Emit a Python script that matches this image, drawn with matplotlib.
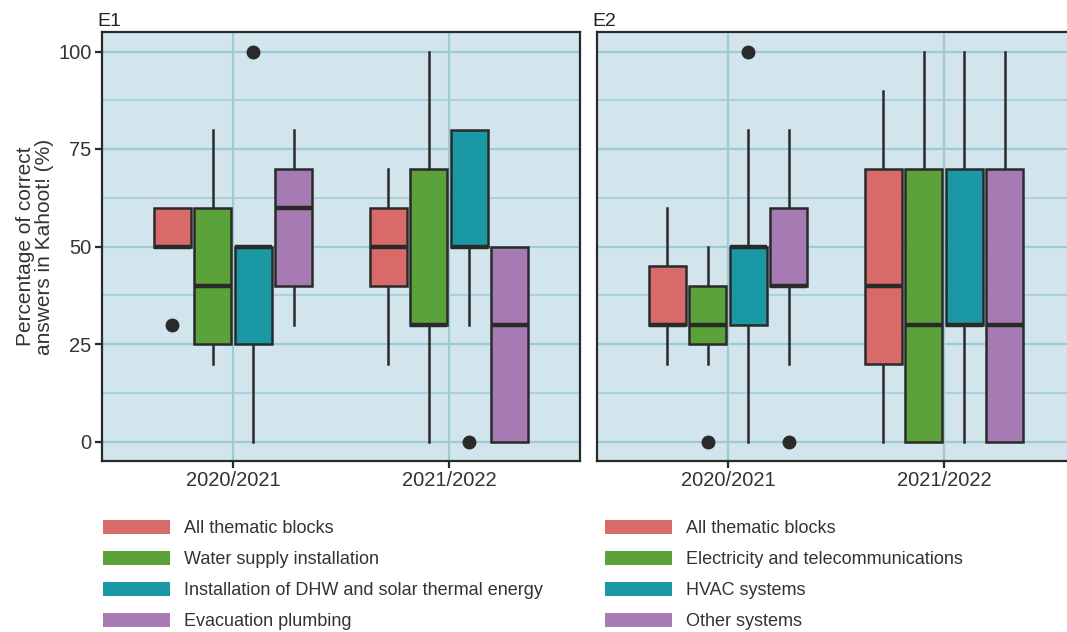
import matplotlib
matplotlib.use("Agg")
import matplotlib.pyplot as plt
from matplotlib.patches import Patch

plt.rcParams['font.family'] = ['Liberation Sans', 'DejaVu Sans']

years = ["2020/2021", "2021/2022"]
colors = ["#d86b6a", "#5ba23a", "#1a98a3", "#a67bb3"]

e1_labels = ["All thematic blocks", "Water supply installation",
             "Installation of DHW and solar thermal energy", "Evacuation plumbing"]
e2_labels = ["All thematic blocks", "Electricity and telecommunications",
             "HVAC systems", "Other systems"]

# per year, per block: whisker low, Q1, median, Q3, whisker high
e1_whislo = [[50, 20, 0, 30], [20, 0, 30, 0]]
e1_q1 = [[50, 25, 25, 40], [40, 30, 50, 0]]
e1_med = [[50, 40, 50, 60], [50, 30, 50, 30]]
e1_q3 = [[60, 60, 50, 70], [60, 70, 80, 50]]
e1_whishi = [[60, 80, 50, 80], [70, 100, 80, 50]]
e1_fliers = [[[30], [], [100], []], [[], [], [0], []]]

e2_whislo = [[20, 20, 0, 20], [0, 0, 0, 0]]
e2_q1 = [[30, 25, 30, 40], [20, 0, 30, 0]]
e2_med = [[30, 30, 50, 40], [40, 30, 30, 30]]
e2_q3 = [[45, 40, 50, 60], [70, 70, 70, 70]]
e2_whishi = [[60, 50, 80, 80], [90, 100, 100, 100]]
e2_fliers = [[[], [0], [100], [0]], [[], [], [], []]]

panels = [
    ("E1", e1_whislo, e1_q1, e1_med, e1_q3, e1_whishi, e1_fliers),
    ("E2", e2_whislo, e2_q1, e2_med, e2_q3, e2_whishi, e2_fliers),
]

W, H = 1067, 632
fig = plt.figure(figsize=(W / 100, H / 100), dpi=100)

bg = "#d2e5ec"
grid_c = "#9dcbd4"
dark = "#2a2a2a"
slot = 0.1875
offsets = [-1.5 * slot, -0.5 * slot, 0.5 * slot, 1.5 * slot]

lefts = [102, 597]
for (title, wlo, q1, med, q3, whi, fl), left in zip(panels, lefts):
    ax = fig.add_axes([left / W, 1 - 461 / H, 478 / W, (461 - 32) / H])
    ax.set_facecolor(bg)
    for i, yr in enumerate(years):
        for j in range(4):
            stats = [dict(whislo=wlo[i][j], q1=q1[i][j], med=med[i][j],
                          q3=q3[i][j], whishi=whi[i][j], fliers=fl[i][j])]
            res = ax.bxp(stats, positions=[i + 1 + offsets[j]], widths=0.172,
                         patch_artist=True, showcaps=False, manage_ticks=False,
                         boxprops=dict(facecolor=colors[j], edgecolor=dark, linewidth=1.8),
                         medianprops=dict(color=dark, linewidth=3.2, solid_capstyle="butt"),
                         whiskerprops=dict(color=dark, linewidth=1.8),
                         flierprops=dict(marker="o", markerfacecolor=dark,
                                         markeredgecolor=dark, markersize=9))
            for b in res["boxes"]:
                b.set_zorder(3)
            for m in res["medians"]:
                m.set_zorder(4)
    ax.set_xlim(0.394, 2.606)
    ax.set_ylim(-5, 105)
    ax.set_xticks([1, 2])
    ax.set_xticklabels(years)
    ax.set_yticks([0, 25, 50, 75, 100])
    ax.set_yticks([12.5, 37.5, 62.5, 87.5], minor=True)
    ax.grid(True, which="major", color=grid_c, linewidth=1.6, zorder=0)
    ax.grid(True, which="minor", axis="y", color=grid_c, linewidth=1.1, zorder=0)
    ax.set_axisbelow(True)
    for s in ax.spines.values():
        s.set_color(dark)
        s.set_linewidth(1.6)
    ax.tick_params(axis="both", which="major", labelsize=14.5, colors=dark,
                   length=5, width=1.6, labelcolor="#333333", pad=2.5)
    ax.tick_params(axis="y", which="minor", length=0)
    ax.set_title(title, loc="left", fontsize=14, color="#222222", pad=4, x=-0.01)
    if title == "E1":
        ax.set_ylabel("Percentage of correct\nanswers in Kahoot! (%)",
                      fontsize=15, color="#333333", labelpad=3, linespacing=1.0)
    else:
        ax.set_yticklabels([])
        ax.tick_params(axis="y", length=0)

for labels, x in [(e1_labels, 103), (e2_labels, 605)]:
    handles = [Patch(facecolor=c, edgecolor="none") for c in colors]
    fig.legend(handles, labels, loc="upper left",
               bbox_to_anchor=(x / W, 1 - 520 / H), frameon=False,
               fontsize=13, handlelength=3.7, handleheight=0.85,
               handletextpad=0.8, labelspacing=0.75, borderpad=0,
               borderaxespad=0, labelcolor="#333333")

fig.savefig("out.png", dpi=100)
